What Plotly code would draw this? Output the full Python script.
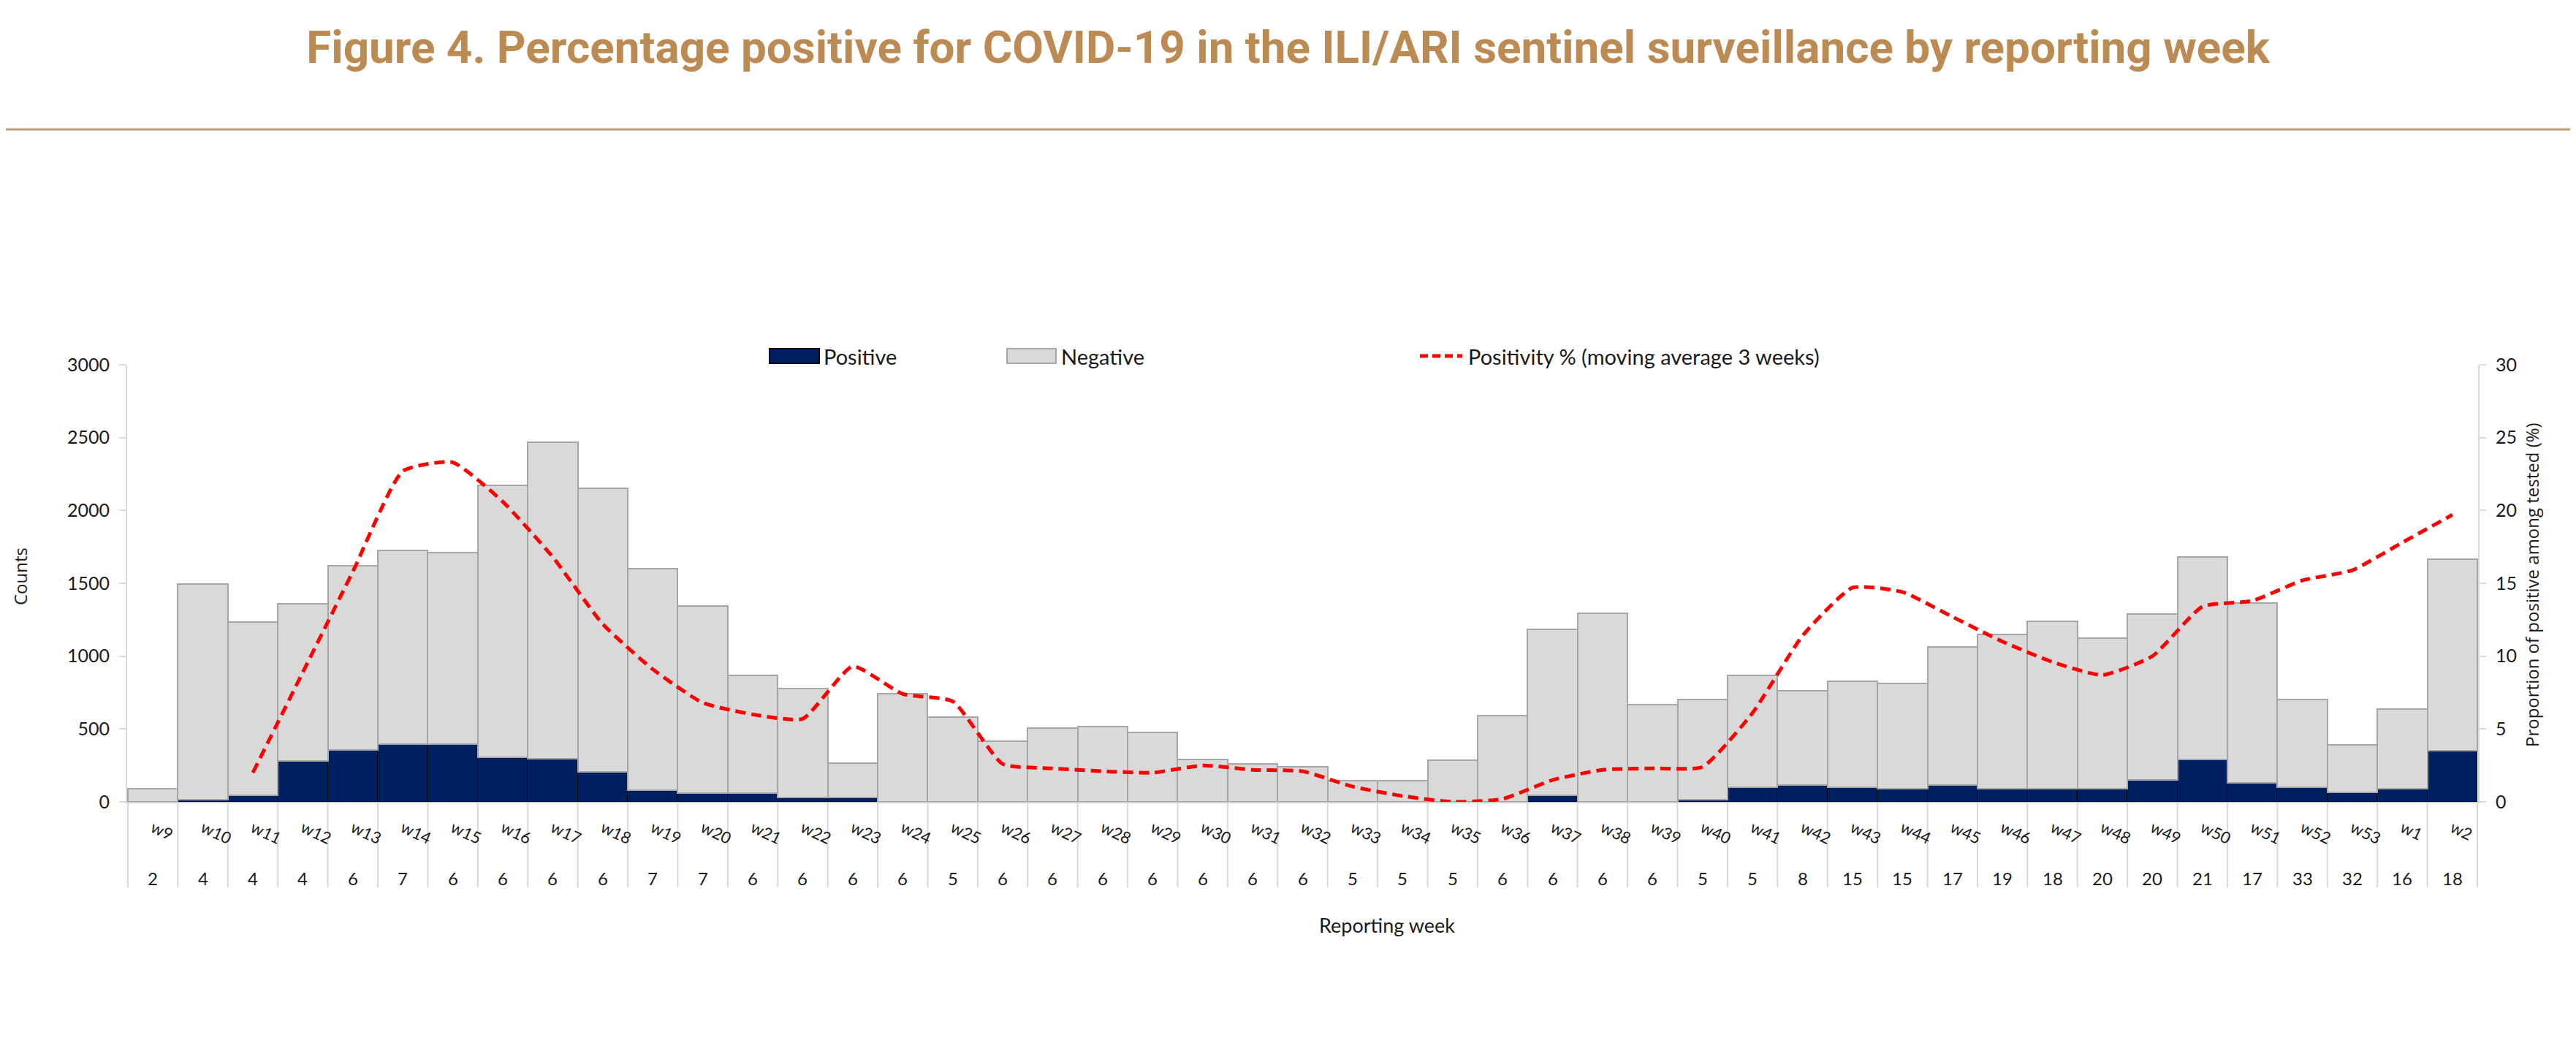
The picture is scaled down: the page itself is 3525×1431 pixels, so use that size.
import plotly.graph_objects as go

# ---------------- data ----------------
weeks = ["w9", "w10", "w11", "w12", "w13", "w14", "w15", "w16", "w17", "w18", "w19", "w20",
         "w21", "w22", "w23", "w24", "w25", "w26", "w27", "w28", "w29", "w30", "w31", "w32",
         "w33", "w34", "w35", "w36", "w37", "w38", "w39", "w40", "w41", "w42", "w43", "w44",
         "w45", "w46", "w47", "w48", "w49", "w50", "w51", "w52", "w53", "w1", "w2"]

sites = [2, 4, 4, 4, 6, 7, 6, 6, 6, 6, 7, 7, 6, 6, 6, 6, 5, 6, 6, 6, 6, 6, 6, 6,
         5, 5, 5, 6, 6, 6, 6, 5, 5, 8, 15, 15, 17, 19, 18, 20, 20, 21, 17, 33, 32, 16, 18]

positive = [0, 16, 43, 280, 357, 395, 395, 307, 294, 206, 79, 58, 58, 30, 30, 0, 0, 0, 0, 0,
            0, 0, 0, 0, 0, 0, 0, 0, 43, 0, 0, 14, 101, 117, 101, 88, 117, 88, 88, 88, 150,
            289, 128, 101, 65, 88, 352]

negative = [90, 1481, 1189, 1078, 1265, 1331, 1315, 1867, 2172, 1946, 1521, 1288, 812, 749,
            235, 745, 581, 415, 505, 516, 476, 289, 262, 240, 146, 146, 287, 592, 1140, 1295,
            666, 689, 765, 646, 725, 727, 949, 1061, 1153, 1038, 1140, 1394, 1239, 599, 328,
            547, 1313]

positivity = [None, None, 2.0, 8.9, 15.8, 22.7, 23.3, 20.6, 16.8, 12.2, 9.1, 6.8, 6.0, 5.7,
              9.3, 7.4, 6.9, 2.6, 2.3, 2.1, 2.0, 2.5, 2.2, 2.1, 1.05, 0.4, 0.0, 0.2, 1.5,
              2.2, 2.3, 2.4, 6.1, 11.4, 14.7, 14.4, 12.7, 11.0, 9.6, 8.7, 10.0, 13.4, 13.8,
              15.2, 15.9, 17.8, 19.7]

y_ticks = [0, 500, 1000, 1500, 2000, 2500, 3000]
y2_ticks = [0, 5, 10, 15, 20, 25, 30]

# ---------------- layout geometry (page pixels) ----------------
W, H = 3525, 1431
OFF = 8                      # default page body margin
L, R, T, B = 174, 134, 499, 334
PW, PH = W - L - R, H - T - B


def px2x(px):
    return (px - L) / PW


def px2y(py):
    return (H - B - py) / PH


TXT = "#1a1a1a"
LBL_FONT = "Lato, Carlito, 'Liberation Sans', sans-serif"
AX_TITLE_FONT = "'Open Sans', 'DejaVu Sans', sans-serif"
NAVY = "#002060"
GREY = "#D9D9D9"
RED = "#FF0000"
TAN = "#BC8A53"

fig = go.Figure()

fig.add_trace(go.Bar(
    x=weeks, y=positive, name="Positive",
    marker=dict(color=NAVY, line=dict(color="#0a0a0a", width=1.5)),
    showlegend=False,
))
fig.add_trace(go.Bar(
    x=weeks, y=negative, name="Negative",
    marker=dict(color=GREY, line=dict(color="#A6A6A6", width=2)),
    showlegend=False,
))
fig.add_trace(go.Scatter(
    x=weeks, y=positivity, name="Positivity % (moving average 3 weeks)",
    yaxis="y2", mode="lines", connectgaps=False,
    line=dict(color=RED, width=5, dash="14px,8px", shape="spline", smoothing=0.5),
    showlegend=False,
))

shapes = []
annotations = []

# category separators below the axis (multi-level category look)
for i in range(len(weeks) + 1):
    shapes.append(dict(type="line", xref="x", yref="paper",
                       x0=i - 0.5, x1=i - 0.5, y0=0, y1=px2y(1214),
                       line=dict(color="#D9D9D9", width=2), layer="below"))

# second category level: number of sites
for wk, n in zip(weeks, sites):
    annotations.append(dict(x=wk, xref="x", y=px2y(1201), yref="paper",
                            text=str(n), showarrow=False,
                            font=dict(family=LBL_FONT, size=24, color=TXT),
                            xanchor="center", yanchor="middle"))

# header rule
shapes.append(dict(type="line", xref="paper", yref="paper",
                   x0=px2x(0), x1=px2x(W), y0=px2y(177), y1=px2y(177),
                   line=dict(color="#C49A68", width=3)))

# manual legend
ly = px2y(487)
shapes.append(dict(type="rect", xref="paper", yref="paper",
                   x0=px2x(1053), x1=px2x(1121), y0=px2y(497), y1=px2y(477),
                   fillcolor=NAVY, line=dict(color="#0a0a0a", width=2)))
shapes.append(dict(type="rect", xref="paper", yref="paper",
                   x0=px2x(1378), x1=px2x(1445), y0=px2y(497), y1=px2y(477),
                   fillcolor=GREY, line=dict(color="#A6A6A6", width=2)))
shapes.append(dict(type="line", xref="paper", yref="paper",
                   x0=px2x(1943), x1=px2x(2001), y0=ly, y1=ly,
                   line=dict(color=RED, width=5, dash="11px,6px")))
for txt, px in [("Positive", 1125), ("Negative", 1450),
                ("Positivity % (moving average 3 weeks)", 2007)]:
    annotations.append(dict(x=px2x(px), y=ly, xref="paper", yref="paper",
                            text=txt, showarrow=False, xanchor="left", yanchor="middle",
                            font=dict(family=LBL_FONT, size=29, color=TXT)))

# axis titles
annotations.append(dict(x=px2x(27), y=px2y(789), xref="paper", yref="paper",
                        text="Counts", showarrow=False, textangle=-90,
                        xanchor="center", yanchor="middle",
                        font=dict(family=AX_TITLE_FONT, size=24, color=TXT)))
annotations.append(dict(x=px2x(3464), y=px2y(800), xref="paper", yref="paper",
                        text="Proportion of positive among tested (%)", showarrow=False,
                        textangle=-90, xanchor="center", yanchor="middle",
                        font=dict(family=AX_TITLE_FONT, size=24, color=TXT)))
annotations.append(dict(x=px2x(1898), y=px2y(1265), xref="paper", yref="paper",
                        text="Reporting week", showarrow=False,
                        xanchor="center", yanchor="middle",
                        font=dict(family=LBL_FONT, size=27, color=TXT)))

fig.update_layout(
    width=W - OFF, height=H - OFF, autosize=False,
    margin=dict(l=L - OFF, r=R, t=T - OFF, b=B, pad=0),
    paper_bgcolor="white", plot_bgcolor="white",
    barmode="stack", bargap=0,
    title=dict(
        text="Figure 4. Percentage positive for COVID-19 in the ILI/ARI sentinel surveillance by reporting week",
        x=(W / 2 - OFF) / (W - OFF), xref="container", xanchor="center",
        y=1 - (64 - OFF) / (H - OFF), yref="container", yanchor="middle",
        font=dict(family="Roboto, 'Open Sans', sans-serif", size=62, color=TAN, weight=700),
    ),
    xaxis=dict(
        type="category", showgrid=False, zeroline=False,
        showline=True, linecolor="#D0D0D0", linewidth=2,
        ticks="", tickangle=25, ticklabelstandoff=13,
        tickfont=dict(family=LBL_FONT, size=22, color=TXT),
    ),
    yaxis=dict(
        range=[0, 3000], tickvals=y_ticks, showgrid=False, zeroline=False,
        showline=True, linecolor="#D9D9D9", linewidth=2,
        ticks="outside", ticklen=9, tickcolor="#D9D9D9", tickwidth=2,
        ticklabelstandoff=8,
        tickfont=dict(family=LBL_FONT, size=25, color=TXT),
    ),
    yaxis2=dict(
        range=[0, 30], tickvals=y2_ticks, overlaying="y", side="right",
        showgrid=False, zeroline=False,
        showline=True, linecolor="#D9D9D9", linewidth=2,
        ticks="outside", ticklen=9, tickcolor="#D9D9D9", tickwidth=2,
        ticklabelstandoff=8,
        tickfont=dict(family=LBL_FONT, size=25, color=TXT),
    ),
    shapes=shapes,
    annotations=annotations,
    showlegend=False,
)

fig.write_html("out.html")
